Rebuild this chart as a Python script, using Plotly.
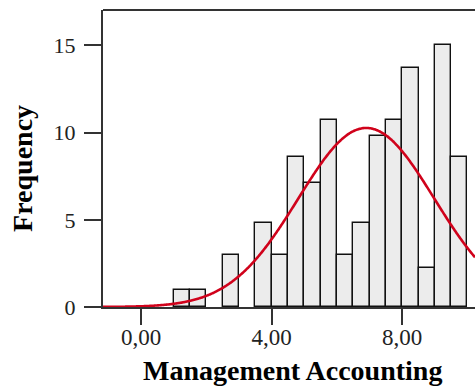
import numpy as np
import plotly.graph_objects as go

# Histogram bins (left edges, width 0.5) and their frequencies
bin_left = [1.0, 1.5, 2.5, 3.5, 4.0, 4.5, 5.0, 5.5, 6.0, 6.5, 7.0, 7.5, 8.0, 8.5, 9.0, 9.5]
frequency = [1, 1, 3, 4.8, 3, 8.6, 7.1, 10.7, 3, 4.8, 9.8, 10.7, 13.7, 2.25, 15, 8.6]
bin_width = 0.5

# Normal curve parameters
mean_score = 6.9
std_score = 2.08

x_tick_vals = [0, 4, 8]
x_tick_text = ["0,00", "4,00", "8,00"]
y_tick_vals = [0, 5, 10, 15]

x_range = [-1.165, 10.23]
y_range = [0, 17.03]

serif = "Liberation Serif"
frame = "#333333"

centers = [b + bin_width / 2 for b in bin_left]
n_total = float(np.sum(frequency))

xs = np.linspace(x_range[0], x_range[1], 400)
ys = n_total * bin_width * np.exp(-0.5 * ((xs - mean_score) / std_score) ** 2) / (std_score * np.sqrt(2 * np.pi))

fig = go.Figure()
fig.add_trace(go.Bar(
    x=centers, y=frequency, width=bin_width,
    marker=dict(color="#ececec", line=dict(color="#111111", width=1.4)),
    hoverinfo="skip",
))
fig.add_trace(go.Scatter(
    x=xs, y=ys, mode="lines",
    line=dict(color="#d0021b", width=2.6, shape="spline"),
    hoverinfo="skip",
))

fig.update_layout(
    width=475, height=391,
    margin=dict(l=103, r=0, t=10, b=84),
    paper_bgcolor="white", plot_bgcolor="white",
    showlegend=False, bargap=0,
    font=dict(family=serif, color="#222222"),
    shapes=[dict(type="line", xref="paper", yref="paper", x0=0, x1=1, y0=1, y1=1,
                 line=dict(color=frame, width=2))],
    annotations=[
        dict(text="<b>Management Accounting</b>", xref="paper", yref="paper",
             x=0.509, y=-0.215, xanchor="center", yanchor="middle", showarrow=False,
             font=dict(family=serif, size=28, color="#000000")),
        dict(text="<b>Frequency</b>", xref="paper", yref="paper",
             x=-0.216, y=0.467, xanchor="center", yanchor="middle", showarrow=False,
             textangle=-90, font=dict(family=serif, size=28, color="#000000")),
    ],
)
fig.update_xaxes(
    range=x_range, tickvals=x_tick_vals, ticktext=x_tick_text,
    showgrid=False, zeroline=False, showline=True, linecolor=frame, linewidth=2,
    ticks="outside", ticklen=16, tickwidth=1.5, tickcolor=frame,
    ticklabelstandoff=-8,
    tickfont=dict(family=serif, size=23, color="#222222"),
)
fig.update_yaxes(
    range=y_range, tickvals=y_tick_vals,
    showgrid=False, zeroline=False, showline=True, linecolor=frame, linewidth=2,
    ticks="outside", ticklen=17, tickwidth=1.5, tickcolor=frame,
    ticklabelstandoff=4,
    tickfont=dict(family=serif, size=22, color="#222222"),
)

fig.write_html("out.html")
